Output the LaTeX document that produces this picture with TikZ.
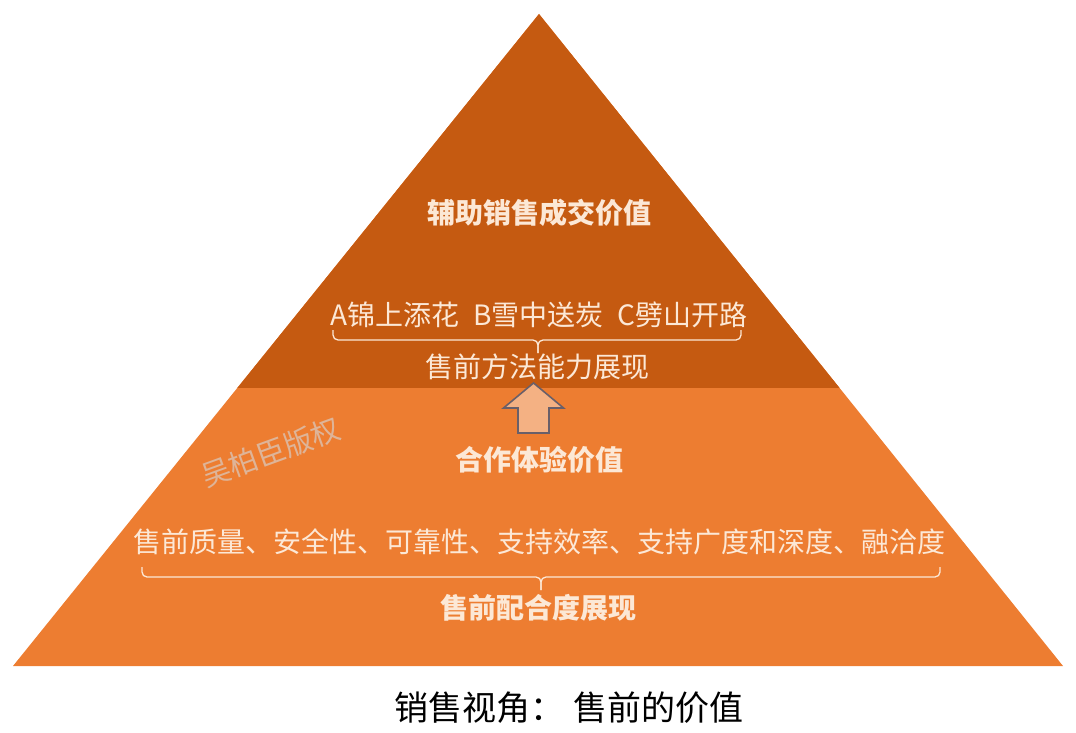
\documentclass[tikz,border=0pt]{standalone}
\usepackage{fontspec}
\setmainfont{Noto Sans CJK SC}
\usetikzlibrary{calc}
\definecolor{rust}{RGB}{197,90,17}
\definecolor{tangerine}{RGB}{237,125,49}
\definecolor{peach}{RGB}{244,177,131}
\definecolor{cream}{RGB}{252,232,214}
\definecolor{slate}{RGB}{105,95,105}
\definecolor{stamp}{RGB}{222,180,152}
\tikzset{
  title/.style={text=cream,font=\fontsize{28}{30}\selectfont\bfseries,inner sep=0pt},
  item/.style={text=cream,font=\fontsize{#1}{30}\selectfont,inner sep=0pt},
  item/.default=28,
  bracket/.style={draw=cream,line width=1.3pt,rounded corners=5pt},
}

\begin{document}
\begin{tikzpicture}[x=1pt,y=-1pt]
  \useasboundingbox (0,0) rectangle (1076,733);
  % pyramid
  \coordinate (apex) at (539,14);
  \coordinate (bl) at (13,666);
  \coordinate (br) at (1063,666);
  \coordinate (ml) at ($(apex)!0.5736!(bl)$);
  \coordinate (mr) at ($(apex)!0.5736!(br)$);
  \fill[tangerine] (apex) -- (bl) -- (br) -- cycle;
  \fill[rust] (apex) -- (ml) -- (mr) -- cycle;

  % upper level
  \node[title] (top) at (539,213) {辅助销售成交价值};
  \node[item] (ways) at (539,315) {A锦上添花\hspace{0.5em}B雪中送炭\hspace{0.5em}C劈山开路};
  \coordinate (b1l) at (333,330);
  \coordinate (b1r) at (741,330);
  \coordinate (b1t) at (538,353);
  \draw[bracket] (b1l) |- ($(b1t)+(0,-13)$) -- (b1t);
  \draw[bracket] (b1r) |- ($(b1t)+(0,-13)$) -- (b1t);
  \node[item] (method) at (537,367) {售前方法能力展现};

  % arrow
  \draw[fill=peach,draw=slate,line width=1.6pt,line join=miter]
    (533.5,383) -- (563.5,408) -- (549,408) -- (549,433)
    -- (518,433) -- (518,408) -- (503.5,408) -- cycle;

  % lower level
  \node[text=stamp,rotate=20,font=\fontsize{29}{30}\selectfont,inner sep=0pt] (mark) at (271,452) {吴柏臣版权};
  \node[title] (mid) at (539,460) {合作体验价值};
  \node[item] (points) at (539.5,542) {售前质量、安全性、可靠性、支持效率、支持广度和深度、融洽度};
  \coordinate (b2l) at (142,567);
  \coordinate (b2r) at (940,567);
  \coordinate (b2t) at (541,590);
  \draw[bracket] (b2l) |- ($(b2t)+(0,-13)$) -- (b2t);
  \draw[bracket] (b2r) |- ($(b2t)+(0,-13)$) -- (b2t);
  \node[title] (fit) at (538,608) {售前配合度展现};

  % caption
  \node[font=\fontsize{34}{36}\selectfont,inner sep=0pt] (caption) at (569,708) {销售视角：\hspace{0.25em}售前的价值};
\end{tikzpicture}
\end{document}
